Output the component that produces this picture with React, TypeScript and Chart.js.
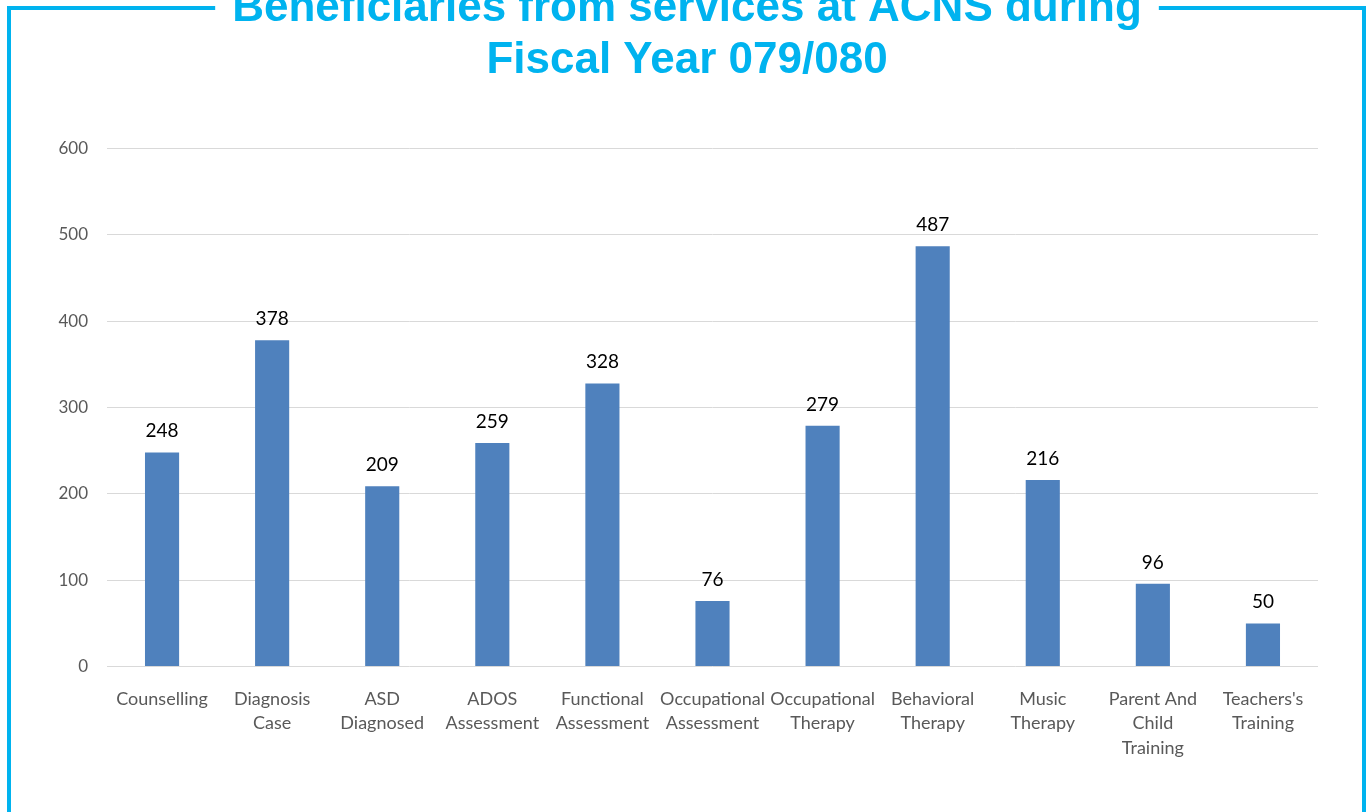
import React, { useEffect, useRef } from 'react';
import { Chart, registerables } from 'chart.js';

Chart.register(...registerables);

const titleLines = ['Beneficiaries from services at ACNS during', 'Fiscal Year 079/080'];

const categories: string[][] = [
  ['Counselling'],
  ['Diagnosis', 'Case'],
  ['ASD', 'Diagnosed'],
  ['ADOS', 'Assessment'],
  ['Functional', 'Assessment'],
  ['Occupational', 'Assessment'],
  ['Occupational', 'Therapy'],
  ['Behavioral', 'Therapy'],
  ['Music', 'Therapy'],
  ['Parent And', 'Child', 'Training'],
  ["Teachers's", 'Training'],
];

const beneficiaries: number[] = [248, 378, 209, 259, 328, 76, 279, 487, 216, 96, 50];

const yMin = 0;
const yMax = 600;
const yStep = 100;

const FRAME_COLOR = '#00B3EF';
const BAR_COLOR = '#4F81BD';
const GRID_COLOR = '#D9D9D9';
const TICK_COLOR = '#595959';
const AXIS_FONT = 'Lato';

const framePlugin = {
  id: 'frame',
  afterDraw(chart: any) {
    const ctx = chart.ctx;
    const t = chart.titleBlock;
    ctx.save();
    ctx.font = 'bold 44px "Liberation Sans", Arial, sans-serif';
    const w = ctx.measureText(titleLines[0]).width;
    const cx = t ? (t.left + t.right) / 2 : chart.width / 2;
    const gapL = cx - w / 2 - 17;
    const gapR = cx + w / 2 + 17;
    const left = 9;
    const right = chart.width - 6;
    const top = 26;
    const bottom = chart.height + 20;
    ctx.strokeStyle = FRAME_COLOR;
    ctx.lineWidth = 4;
    ctx.lineCap = 'butt';
    ctx.lineJoin = 'miter';
    ctx.beginPath();
    ctx.moveTo(gapL, top);
    ctx.lineTo(left, top);
    ctx.lineTo(left, bottom);
    ctx.stroke();
    ctx.beginPath();
    ctx.moveTo(gapR, top);
    ctx.lineTo(right, top);
    ctx.lineTo(right, bottom);
    ctx.stroke();
    ctx.restore();
  },
};

const valueLabelPlugin = {
  id: 'valueLabels',
  afterDatasetsDraw(chart: any) {
    const ctx = chart.ctx;
    ctx.save();
    ctx.font = `19px ${AXIS_FONT}`;
    ctx.fillStyle = '#000000';
    ctx.textAlign = 'center';
    ctx.textBaseline = 'alphabetic';
    chart.data.datasets.forEach((ds: any, di: number) => {
      const meta = chart.getDatasetMeta(di);
      meta.data.forEach((bar: any, i: number) => {
        ctx.fillText(String(ds.data[i]), bar.x, bar.y - 15);
      });
    });
    ctx.restore();
  },
};

export default function App() {
  const canvasRef = useRef<HTMLCanvasElement | null>(null);

  useEffect(() => {
    if (!canvasRef.current) return;
    const chart = new Chart(canvasRef.current, {
      type: 'bar',
      data: {
        labels: categories,
        datasets: [
          {
            label: 'Beneficiaries',
            data: beneficiaries,
            backgroundColor: BAR_COLOR,
            borderWidth: 0,
            categoryPercentage: 1,
            barPercentage: 0.31,
          },
        ],
      },
      options: {
        animation: false,
        responsive: true,
        maintainAspectRatio: false,
        layout: {
          padding: { left: 56, right: 52, top: 0, bottom: 32 },
        },
        plugins: {
          legend: { display: false },
          tooltip: { enabled: false },
          title: {
            display: true,
            text: titleLines,
            color: FRAME_COLOR,
            font: { family: '"Liberation Sans", Arial, sans-serif', size: 44, weight: 'bold', lineHeight: 1.2 },
            padding: { top: 0, bottom: 61 },
          },
        },
        scales: {
          x: {
            grid: { display: false, drawTicks: false },
            border: { display: false },
            ticks: {
              color: TICK_COLOR,
              font: { family: AXIS_FONT, size: 18, lineHeight: 1.36 },
              maxRotation: 0,
              minRotation: 0,
              autoSkip: false,
              padding: 20,
            },
          },
          y: {
            min: yMin,
            max: yMax,
            grid: { color: GRID_COLOR, lineWidth: 1, drawTicks: false },
            border: { display: false },
            ticks: {
              stepSize: yStep,
              color: TICK_COLOR,
              font: { family: AXIS_FONT, size: 17 },
              padding: 19,
            },
            afterFit: (scale: any) => {
              scale.width = 51;
            },
          },
        },
      },
      plugins: [framePlugin, valueLabelPlugin],
    });
    return () => chart.destroy();
  }, []);

  return (
    <div style={{ position: 'fixed', top: -18, left: 0, width: 1370, height: 830, background: '#ffffff' }}>
      <canvas ref={canvasRef} />
    </div>
  );
}
